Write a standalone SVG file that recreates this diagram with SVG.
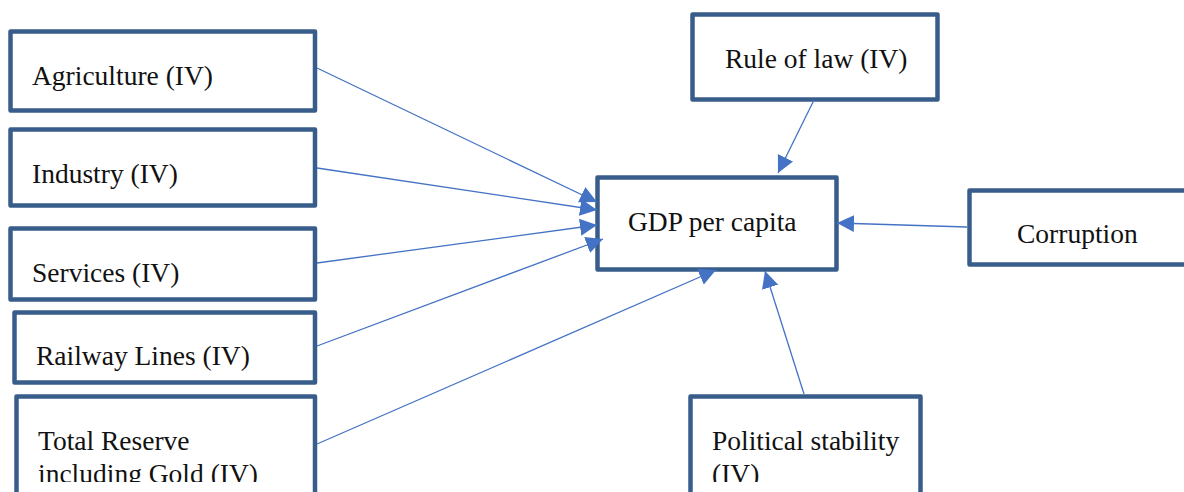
<svg xmlns="http://www.w3.org/2000/svg" width="1184" height="492" viewBox="0 0 1184 492">
<style>
.box{fill:#fff;stroke:#385D8A;stroke-width:4.5;stroke-linejoin:round}
.lbl{font-family:'Liberation Serif','Times New Roman',serif;font-size:27.5px;fill:#111}
.con{stroke:#4472C4;stroke-width:1.3;fill:none;marker-end:url(#ah)}
</style>
<defs>
<marker id="ah" markerUnits="userSpaceOnUse" markerWidth="20" markerHeight="18" refX="17" refY="8.5" orient="auto">
<path d="M0,0 L17,8.5 L0,17 Z" fill="#4472C4"/>
</marker>
<clipPath id="clipText"><rect x="0" y="0" width="1184" height="482"/></clipPath>
</defs>
<rect width="1184" height="492" fill="#fff"/>
<g id="agriculture"><rect class="box" x="10.5" y="31.5" width="304.5" height="79"/><text class="lbl" x="32" y="85">Agriculture (IV)</text></g>
<g id="industry"><rect class="box" x="10.5" y="129.5" width="304.5" height="76"/><text class="lbl" x="32" y="183">Industry (IV)</text></g>
<g id="services"><rect class="box" x="10.5" y="228.5" width="304.5" height="71"/><text class="lbl" x="32" y="282">Services (IV)</text></g>
<g id="railway"><rect class="box" x="14.5" y="312.5" width="300.5" height="70"/><text class="lbl" x="36" y="365">Railway Lines (IV)</text></g>
<g id="reserve"><rect class="box" x="16.5" y="396.5" width="298.5" height="110"/><text class="lbl" clip-path="url(#clipText)"><tspan x="38" y="450">Total Reserve</tspan><tspan x="38" y="483">including Gold (IV)</tspan></text></g>
<g id="gdp"><rect class="box" x="597.5" y="177.5" width="239" height="92"/><text class="lbl" x="628" y="231">GDP per capita</text></g>
<g id="rule"><rect class="box" x="692.5" y="14.5" width="245" height="85"/><text class="lbl" x="725" y="68">Rule of law (IV)</text></g>
<g id="corruption"><rect class="box" x="969.5" y="190.5" width="230" height="74"/><text class="lbl" x="1017" y="243">Corruption</text></g>
<g id="political"><rect class="box" x="690.5" y="396.5" width="230" height="110"/><text class="lbl" clip-path="url(#clipText)"><tspan x="712" y="450">Political stability</tspan><tspan x="712" y="483">(IV)</tspan></text></g>
<g id="connectors">
<line class="con" x1="317" y1="68" x2="597" y2="202"/>
<line class="con" x1="317" y1="168" x2="597" y2="210"/>
<line class="con" x1="317" y1="263" x2="597" y2="225"/>
<line class="con" x1="317" y1="346" x2="603" y2="239"/>
<line class="con" x1="317" y1="444" x2="716" y2="270"/>
<line class="con" x1="814" y1="100" x2="778" y2="173"/>
<line class="con" x1="967" y1="227" x2="837" y2="223"/>
<line class="con" x1="804" y1="394" x2="765" y2="271"/>
</g>
</svg>
